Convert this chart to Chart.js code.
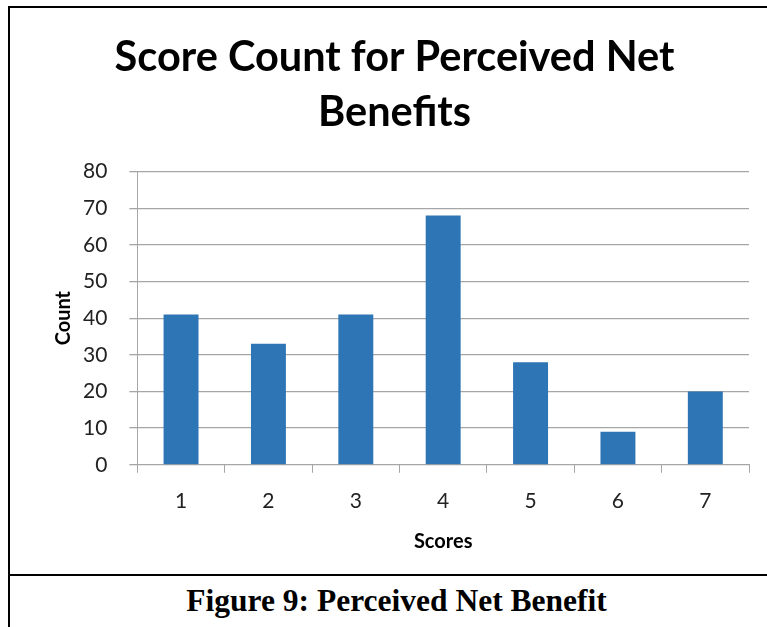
<!DOCTYPE html>
<html>
<head>
<meta charset="utf-8">
<script src="https://cdn.jsdelivr.net/npm/chart.js@4"></script>
<style>
  html, body { margin: 0; padding: 0; background: #fff; }
  body { width: 767px; height: 627px; position: relative; overflow: hidden; }
  #frame {
    position: absolute; left: 8px; top: 6px; width: 759px; height: 566px;
    border-top: 2px solid #000; border-left: 2px solid #000; border-bottom: 2px solid #000;
  }
  #chartBox { position: absolute; left: 0; top: 0; width: 759px; height: 566px; }
  #caption {
    position: absolute; left: 8px; top: 574px; width: 745px; height: 53px;
    padding-left: 14px;
    border-left: 2px solid #000;
    font-family: "Liberation Serif", serif; font-weight: bold; font-size: 31.5px;
    text-align: center; line-height: 54px; color: #000;
  }
</style>
</head>
<body>
<div id="frame"><div id="chartBox"><canvas id="chart"></canvas></div></div>
<div id="caption">Figure 9: Perceived Net Benefit</div>
<script>
// スコア別の件数
const scores = ['1', '2', '3', '4', '5', '6', '7'];
const counts = [41, 33, 41, 68, 28, 9, 20];
const yTicks = [0, 10, 20, 30, 40, 50, 60, 70, 80];

const BAR_COLOR = '#2e75b6';
const GRID = '#a6a6a6';
const FONT = 'Lato, "Open Sans", sans-serif';

new Chart(document.getElementById('chart').getContext('2d'), {
  type: 'bar',
  data: {
    labels: scores,
    datasets: [{
      label: 'Count',
      data: counts,
      backgroundColor: BAR_COLOR,
      borderWidth: 0,
      categoryPercentage: 1,
      barPercentage: 0.40,
    }],
  },
  options: {
    responsive: true,
    maintainAspectRatio: false,
    animation: false,
    layout: { padding: { left: 30, right: 20, top: 6, bottom: 20 } },
    plugins: {
      legend: { display: false },
      tooltip: { enabled: false },
      title: {
        display: true,
        text: ['Score Count for Perceived Net', 'Benefits'],
        color: '#000',
        font: { family: FONT, size: 41.5, weight: 'bold', lineHeight: 1.32 },
        padding: { top: 16, bottom: 32 },
      },
    },
    scales: {
      x: {
        grid: { display: true, drawOnChartArea: false, drawTicks: true, tickLength: 8, offset: true, color: GRID },
        border: { color: GRID },
        ticks: { color: '#222', font: { family: FONT, size: 21 }, padding: 16 },
        title: { display: true, text: 'Scores', color: '#000', font: { family: FONT, size: 20, weight: 'bold' }, padding: { top: 0, bottom: 0 } },
      },
      y: {
        min: 0,
        max: 80,
        afterBuildTicks: axis => { axis.ticks = yTicks.map(v => ({ value: v })); },
        grid: { color: GRID, tickLength: 8, lineWidth: 1.3 },
        border: { color: GRID },
        ticks: { color: '#222', font: { family: FONT, size: 21 }, padding: 22 },
        // ラベル幅の余白を詰めて「Count」を目盛り数字に寄せる
        title: { display: true, text: 'Count', color: '#000', font: { family: FONT, size: 20, weight: 'bold' }, padding: { top: 12, bottom: -15 } },
      },
    },
  },
});
</script>
</body>
</html>
